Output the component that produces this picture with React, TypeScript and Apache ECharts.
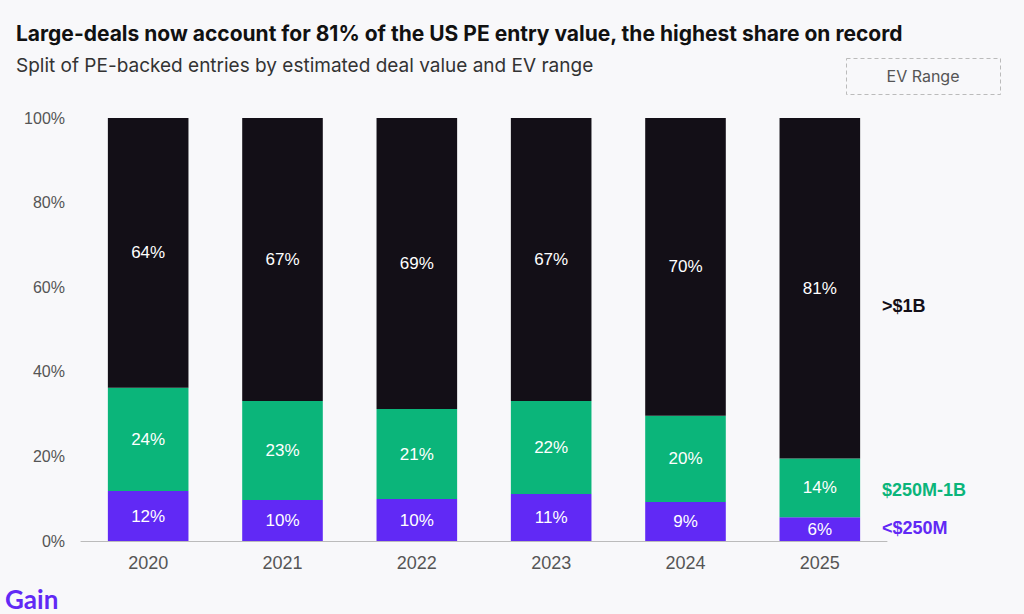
import React, { useEffect, useRef } from "react";
import * as echarts from "echarts";

const years = ["2020", "2021", "2022", "2023", "2024", "2025"];
const small = [11.8, 9.7, 9.9, 11.1, 9.2, 5.6];
const mid = [24.4, 23.4, 21.3, 22.0, 20.4, 13.9];
const large = [63.8, 66.9, 68.8, 66.9, 70.4, 80.5];
const seriesNames = ["<$250M", "$250M-1B", ">$1B"];
const colors = ["#6129f5", "#0bb57a", "#130f17"];
const yTicks = [0, 20, 40, 60, 80, 100];

export default function App() {
  const ref = useRef<HTMLDivElement>(null);
  useEffect(() => {
    document.body.style.margin = "0";
    const chart = echarts.init(ref.current!, null, { renderer: "svg" });
    const font = "Liberation Sans, Arial, sans-serif";
    const headFont = "Inter, sans-serif";
    const mk = (name: string, data: number[], color: string) => ({
      name,
      type: "bar",
      stack: "s",
      data,
      barWidth: "60%",
      itemStyle: { color },
      label: {
        show: true,
        position: "inside",
        color: "#fff",
        fontSize: 17,
        fontFamily: font,
        formatter: (p: any) => Math.round(p.value) + "%",
      },
    });
    chart.setOption({
      animation: false,
      backgroundColor: "#f8f8fa",
      grid: { left: 81, right: 137, top: 118, bottom: 73 },
      xAxis: {
        type: "category",
        data: years,
        axisLine: { lineStyle: { color: "#bbbbbb" } },
        axisTick: { lineStyle: { color: "#bbbbbb" }, length: 5 },
        axisLabel: { color: "#555", fontSize: 18, fontFamily: font, margin: 13 },
      },
      yAxis: {
        type: "value",
        min: 0,
        max: 100,
        interval: 20,
        splitLine: { show: false },
        axisLabel: {
          color: "#555",
          fontSize: 16,
          fontFamily: font,
          margin: 16,
          formatter: (v: number) => (yTicks.includes(v) ? v + "%" : ""),
        },
      },
      series: [
        mk(seriesNames[0], small, colors[0]),
        mk(seriesNames[1], mid, colors[1]),
        mk(seriesNames[2], large, colors[2]),
      ],
    });
    const last = years.length - 1;
    const cum0 = small[last] / 2;
    const cum1 = small[last] + mid[last] / 2;
    const cum2 = small[last] + mid[last] + large[last] / 2;
    const p0 = chart.convertToPixel({ gridIndex: 0 }, [last, cum0]);
    const p1 = chart.convertToPixel({ gridIndex: 0 }, [last, cum1]);
    const p2 = chart.convertToPixel({ gridIndex: 0 }, [last, cum2]);
    const lx = 882;
    const sideLabel = (text: string, y: number, color: string) => ({
      type: "text",
      x: lx,
      y,
      style: {
        text,
        fill: color,
        fontSize: 18,
        fontWeight: "bold",
        fontFamily: font,
        verticalAlign: "middle",
      },
    });
    chart.setOption({
      graphic: [
        {
          type: "text",
          x: 16,
          y: 33,
          style: {
            text: "Large-deals now account for 81% of the US PE entry value, the highest share on record",
            fill: "#111",
            fontSize: 21,
            fontWeight: "bold",
            fontFamily: headFont,
            verticalAlign: "middle",
          },
        },
        {
          type: "text",
          x: 16,
          y: 65,
          style: {
            text: "Split of PE-backed entries by estimated deal value and EV range",
            fill: "#333",
            fontSize: 19,
            fontFamily: headFont,
            verticalAlign: "middle",
          },
        },
        {
          type: "rect",
          shape: { x: 846.5, y: 58.5, width: 154, height: 36 },
          style: { fill: "none", stroke: "#bbbbbb", lineDash: [4, 3], lineWidth: 1 },
        },
        {
          type: "text",
          x: 923,
          y: 76,
          style: {
            text: "EV Range",
            fill: "#555",
            fontSize: 16,
            fontFamily: headFont,
            align: "center",
            verticalAlign: "middle",
          },
        },
        sideLabel(seriesNames[2], p2[1] + 18, colors[2]),
        sideLabel(seriesNames[1], p1[1] + 2, colors[1]),
        sideLabel(seriesNames[0], p0[1] - 1, colors[0]),
        {
          type: "text",
          x: 5,
          y: 599,
          style: {
            text: "Gain",
            fill: "#6129f5",
            fontSize: 26,
            fontWeight: "bold",
            fontFamily: "Lato, sans-serif",
            verticalAlign: "middle",
          },
        },
      ],
    });
    return () => chart.dispose();
  }, []);
  return <div ref={ref} style={{ width: 1024, height: 614 }} />;
}
